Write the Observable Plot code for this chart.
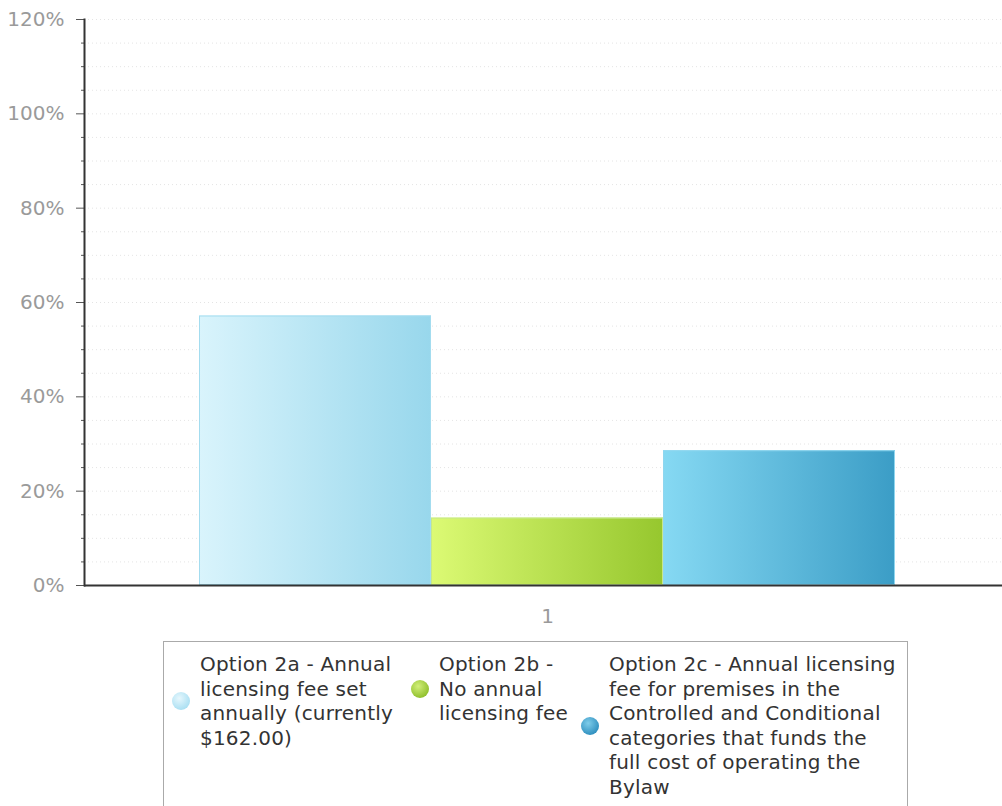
<!DOCTYPE html>
<html>
<head>
<meta charset="utf-8">
<script src="https://cdn.jsdelivr.net/npm/d3@7"></script>
<script src="https://cdn.jsdelivr.net/npm/@observablehq/plot@0.6"></script>
<style>
  html, body { margin: 0; padding: 0; background: #fff; font-family: "DejaVu Sans", Verdana, sans-serif; }
  #wrap { position: relative; width: 1002px; height: 806px; overflow: hidden; }
  #legend {
    position: absolute; left: 163px; top: 641px; width: 745px; height: 220px;
    box-sizing: border-box; border: 1px solid #aaa; background: #fff;
    display: flex; align-items: flex-start; padding: 10px 0 0 8px;
    font-size: 20px; line-height: 24.5px; color: #333; letter-spacing: 0.2px;
  }
  .item { display: flex; align-items: center; }
  .dot { width: 18px; height: 18px; border-radius: 50%; flex: none; }
  .txt { white-space: nowrap; margin-left: 10px; }
</style>
</head>
<body>
<div id="wrap">
  <div id="chart"></div>
  <div id="legend"></div>
</div>
<script>
// ---- data ----
const groups = ["1"];
const options = [
  "Option 2a - Annual licensing fee set annually (currently $162.00)",
  "Option 2b - No annual licensing fee",
  "Option 2c - Annual licensing fee for premises in the Controlled and Conditional categories that funds the full cost of operating the Bylaw"
];
const legendLines = [
  ["Option 2a - Annual", "licensing fee set", "annually (currently", "$162.00)"],
  ["Option 2b -", "No annual", "licensing fee"],
  ["Option 2c - Annual licensing", "fee for premises in the", "Controlled and Conditional", "categories that funds the", "full cost of operating the", "Bylaw"]
];
const values = [57.14, 14.29, 28.57];
const yTicks = [0, 20, 40, 60, 80, 100, 120];
const minorTicks = [5, 10, 15, 25, 30, 35, 45, 50, 55, 65, 70, 75, 85, 90, 95, 105, 110, 115];
const gridTicks = [5, 10, 15, 20, 25, 30, 35, 40, 45, 50, 55, 60, 65, 70, 75, 80, 85, 90, 95, 100, 105, 110, 115, 120];
const gradStops = [["#d9f4fc", "#98d7ec"], ["#dcfa74", "#96c72e"], ["#86d9f3", "#3b9dc6"]];
const barStrokes = ["#a3dcef", "#c6e88a", "#8fd6ef"];
const dotColors = [["#e6f7fd", "#a9dff2"], ["#d2ef7a", "#8fbf2c"], ["#7fcdea", "#2f8fbf"]];

const table = options.map((o, i) => ({option: o, value: values[i]}));

const chart = Plot.plot({
  width: 1002,
  height: 635,
  marginLeft: 84,
  marginRight: 0,
  marginTop: 19,
  marginBottom: 50,
  style: {fontFamily: "DejaVu Sans, Verdana, sans-serif", fontSize: "20px", background: "#fff"},
  x: {domain: options, axis: null, paddingInner: 0, paddingOuter: 0.476, align: 0.52},
  y: {domain: [0, 120], axis: null, label: null},
  color: {domain: options, range: options.map((d, i) => `url(#grad${i})`)},
  marks: [
    Plot.gridY(gridTicks, {stroke: "#d8d8d8", strokeOpacity: 0.7, strokeDasharray: "1,3"}),
    Plot.barY(table, {x: "option", y: "value", fill: "option"}),
    Plot.barY(table, {x: "option", y: "value", fill: "none", stroke: (d, i) => barStrokes[i], strokeWidth: 1, inset: 0.5}),
    Plot.axisY(minorTicks, {tickSize: 3, tickFormat: () => "", stroke: "#555", label: null}),
    Plot.axisY(yTicks, {tickSize: 8, tickPadding: 12, tickFormat: d => d + "%", stroke: "#555", fill: "#9a9a9a", fontSize: 20, label: null}),
    Plot.frame({anchor: "left", stroke: "#333", strokeWidth: 2}),
    Plot.ruleY([0], {stroke: "#333", strokeWidth: 2}),
    Plot.text(groups, {text: d => d, frameAnchor: "bottom", dy: 37, dx: 4, fill: "#9a9a9a", fontSize: 20})
  ]
});

// gradient definitions for bar fills
const svg = d3.select(chart);
const defs = svg.insert("defs", ":first-child");
gradStops.forEach((s, i) => {
  const g = defs.append("linearGradient").attr("id", `grad${i}`).attr("x1", 0).attr("x2", 1).attr("y1", 0).attr("y2", 0);
  g.append("stop").attr("offset", "0%").attr("stop-color", s[0]);
  g.append("stop").attr("offset", "100%").attr("stop-color", s[1]);
});
document.getElementById("chart").appendChild(chart);

// legend
const legend = d3.select("#legend");
const itemWidths = [239, 170, 320];
legendLines.forEach((lines, i) => {
  const it = legend.append("div").attr("class", "item").style("width", itemWidths[i] + "px");
  it.append("div").attr("class", "dot")
    .style("background", `radial-gradient(circle at 40% 35%, ${dotColors[i][0]} 0%, ${dotColors[i][1]} 75%)`);
  it.append("div").attr("class", "txt").html(lines.map(l => l.replace(/&/g, "&amp;").replace(/</g, "&lt;")).join("<br>"));
});
</script>
</body>
</html>
